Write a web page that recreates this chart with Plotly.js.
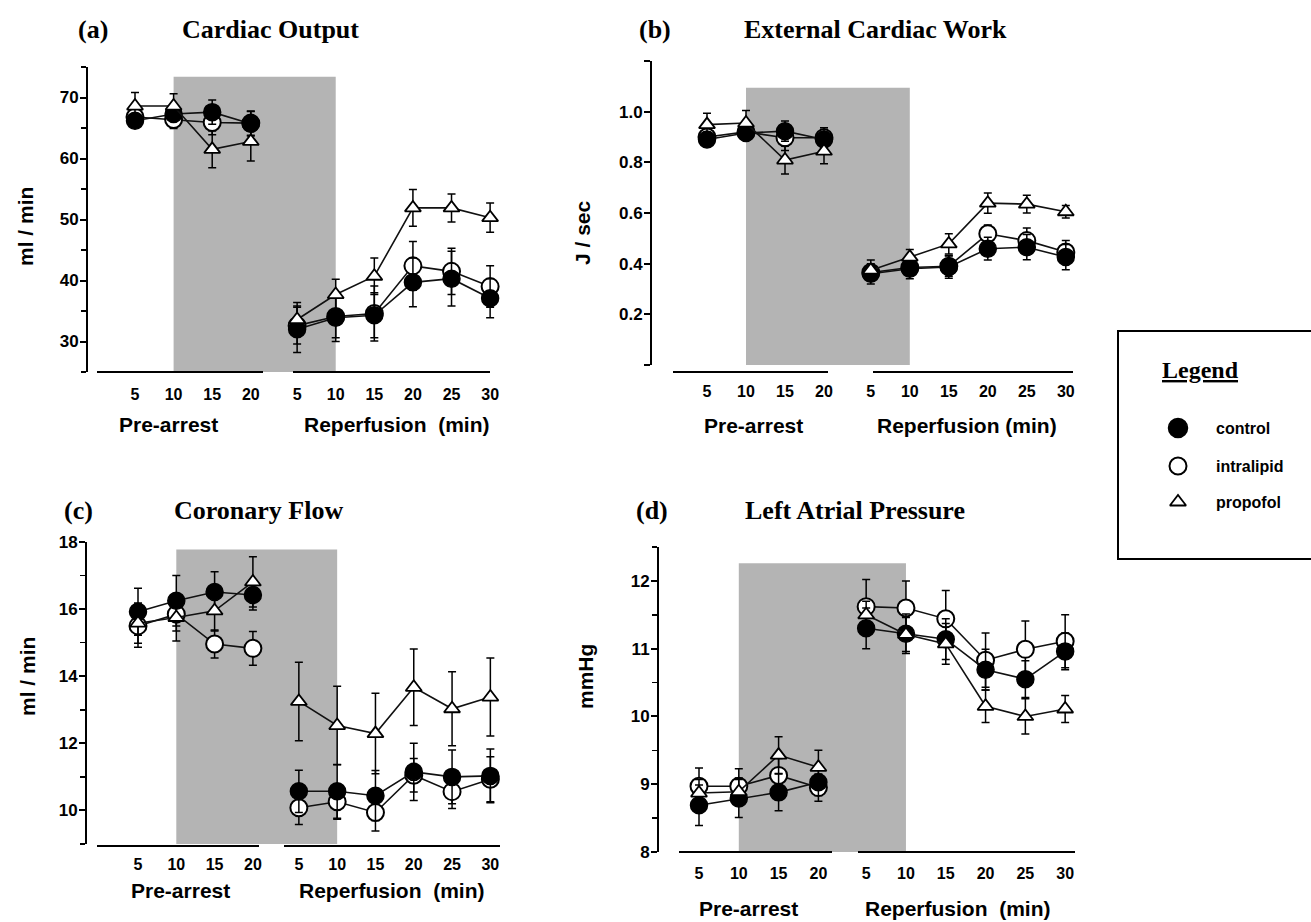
<!DOCTYPE html>
<html><head><meta charset="utf-8">
<script src="https://cdn.plot.ly/plotly-3.0.1.min.js"></script>
<style>html,body{margin:0;padding:0;background:#fff}</style>
</head><body><div id="chart" style="width:1311px;height:922px"></div>
<script>
// ---------- DATA ----------
const preTimes = ['5', '10', '15', '20'];
const repTimes = ['5', '10', '15', '20', '25', '30'];
const seriesNames = ['control', 'intralipid', 'propofol'];

// (a) Cardiac Output (ml/min)
const coControlPre = [66.2, 67.3, 67.6, 65.7];
const coControlPreErr = [1.0, 1.2, 2.0, 2.0];
const coControlRep = [32.0, 33.9, 34.3, 39.7, 40.3, 37.1];
const coControlRepErr = [3.8, 3.9, 3.7, 4.0, 4.5, 3.2];
const coIntraPre = [66.8, 66.4, 65.9, 65.8];
const coIntraPreErr = [1.5, 1.5, 2.0, 2.0];
const coIntraRep = [32.6, 34.1, 34.6, 42.4, 41.5, 39.0];
const coIntraRepErr = [3.0, 3.5, 4.5, 4.0, 3.8, 3.4];
const coPropPre = [68.6, 68.6, 61.5, 62.8];
const coPropPreErr = [2.2, 2.0, 3.0, 3.2];
const coPropRep = [33.6, 37.7, 40.7, 51.9, 51.9, 50.3];
const coPropRepErr = [2.8, 2.5, 3.0, 3.0, 2.3, 2.4];

// (b) External Cardiac Work (J/sec)
const ecwControlPre = [0.890, 0.916, 0.923, 0.890];
const ecwControlPreErr = [0.02, 0.02, 0.04, 0.04];
const ecwControlRep = [0.360, 0.380, 0.387, 0.459, 0.465, 0.426];
const ecwControlRepErr = [0.04, 0.04, 0.045, 0.045, 0.05, 0.05];
const ecwIntraPre = [0.900, 0.920, 0.897, 0.897];
const ecwIntraPreErr = [0.03, 0.03, 0.05, 0.04];
const ecwIntraRep = [0.365, 0.385, 0.390, 0.518, 0.491, 0.446];
const ecwIntraRepErr = [0.03, 0.03, 0.04, 0.035, 0.05, 0.045];
const ecwPropPre = [0.949, 0.955, 0.809, 0.844];
const ecwPropPreErr = [0.045, 0.05, 0.055, 0.05];
const ecwPropRep = [0.374, 0.426, 0.478, 0.639, 0.635, 0.605];
const ecwPropRepErr = [0.04, 0.03, 0.04, 0.04, 0.035, 0.025];

// (c) Coronary Flow (ml/min)
const cfControlPre = [15.92, 16.25, 16.51, 16.42];
const cfControlPreErr = [0.7, 0.75, 0.6, 0.45];
const cfControlRep = [10.57, 10.57, 10.44, 11.15, 11.00, 11.03];
const cfControlRepErr = [0.63, 0.8, 0.75, 0.85, 0.8, 0.8];
const cfIntraPre = [15.50, 15.85, 14.96, 14.83];
const cfIntraPreErr = [0.64, 0.5, 0.42, 0.5];
const cfIntraRep = [10.08, 10.26, 9.94, 11.05, 10.56, 10.93];
const cfIntraRepErr = [0.5, 0.52, 0.55, 0.5, 0.5, 0.67];
const cfPropPre = [15.58, 15.75, 15.95, 16.81];
const cfPropPreErr = [0.6, 0.7, 0.6, 0.75];
const cfPropRep = [13.25, 12.53, 12.29, 13.67, 13.03, 13.38];
const cfPropRepErr = [1.17, 1.17, 1.2, 1.14, 1.1, 1.16];

// (d) Left Atrial Pressure (mmHg)
const lapControlPre = [8.69, 8.79, 8.88, 9.03];
const lapControlPreErr = [0.3, 0.28, 0.27, 0.2];
const lapControlRep = [11.30, 11.22, 11.14, 10.69, 10.55, 10.96];
const lapControlRepErr = [0.3, 0.29, 0.3, 0.3, 0.27, 0.27];
const lapIntraPre = [8.97, 8.97, 9.13, 8.95];
const lapIntraPreErr = [0.27, 0.26, 0.25, 0.2];
const lapIntraRep = [11.62, 11.60, 11.44, 10.83, 10.99, 11.11];
const lapIntraRepErr = [0.4, 0.4, 0.42, 0.4, 0.42, 0.39];
const lapPropPre = [8.87, 8.89, 9.43, 9.25];
const lapPropPreErr = [0.2, 0.2, 0.27, 0.25];
const lapPropRep = [11.50, 11.21, 11.07, 10.15, 10.00, 10.11];
const lapPropRepErr = [0.2, 0.25, 0.3, 0.24, 0.26, 0.2];

// ---------- LAYOUT GEOMETRY ----------
const W = 1311, H = 922;
const GAP = 4.2; // position of first reperfusion point
const prePos = preTimes.map((t, i) => i);
const repPos = repTimes.map((t, j) => GAP + j);

const panels = [
  {letter: '(a)', title: 'Cardiac Output', ylab: 'ml / min', x0: 135, unit: 38.6, left: 88, right: 500, top: 67, bot: 372,
   yr: [25, 75], dtick: 10, tick0: 30, minor: 5, shadeTop: 73.4, axisY: 372, seg: [[97, 263], [293, 490]],
   letterXY: [93, 30], titleXY: [270, 30], ylabXY: [25, 227], preXY: [168, 424], repXY: [397, 424], repText: 'Reperfusion  (min)', standoff: 11,
   data: [[coIntraPre, coIntraPreErr, coIntraRep, coIntraRepErr], [coControlPre, coControlPreErr, coControlRep, coControlRepErr], [coPropPre, coPropPreErr, coPropRep, coPropRepErr]]},
  {letter: '(b)', title: 'External Cardiac Work', ylab: 'J / sec', x0: 707, unit: 39, left: 652, right: 1080, top: 61, bot: 365,
   yr: [0, 1.2], tickvals: [0, 0.2, 0.4, 0.6, 0.8, 1.0, 1.2], ticktext: ['', '0.2', '0.4', '0.6', '0.8', '1.0', ''], shadeTop: 1.094, axisY: 372, seg: [[673, 828], [873, 1073]],
   letterXY: [655, 30], titleXY: [875, 30], ylabXY: [583, 233], preXY: [753, 425], repXY: [967, 425], repText: 'Reperfusion (min)', standoff: 15,
   data: [[ecwIntraPre, ecwIntraPreErr, ecwIntraRep, ecwIntraRepErr], [ecwControlPre, ecwControlPreErr, ecwControlRep, ecwControlRepErr], [ecwPropPre, ecwPropPreErr, ecwPropRep, ecwPropRepErr]]},
  {letter: '(c)', title: 'Coronary Flow', ylab: 'ml / min', x0: 138, unit: 38.3, left: 87, right: 505, top: 542, bot: 844,
   yr: [9, 18], dtick: 2, tick0: 10, minor: 1, shadeTop: 17.78, axisY: 846, seg: [[97, 259], [284, 500]],
   letterXY: [78, 510], titleXY: [258, 510], ylabXY: [27, 677], preXY: [180, 890], repXY: [392, 890], repText: 'Reperfusion  (min)', standoff: 9,
   data: [[cfIntraPre, cfIntraPreErr, cfIntraRep, cfIntraRepErr], [cfControlPre, cfControlPreErr, cfControlRep, cfControlRepErr], [cfPropPre, cfPropPreErr, cfPropRep, cfPropRepErr]]},
  {letter: '(d)', title: 'Left Atrial Pressure', ylab: 'mmHg', x0: 699, unit: 39.8, left: 659, right: 1080, top: 547, bot: 852,
   yr: [8, 12.5], dtick: 1, tick0: 8, minor: 0.5, shadeTop: 12.26, axisY: 852, seg: [[679, 832], [858, 1075]],
   letterXY: [652, 510], titleXY: [855, 510], ylabXY: [585, 677], preXY: [748, 908], repXY: [958, 908], repText: 'Reperfusion  (min)', standoff: 10,
   data: [[lapIntraPre, lapIntraPreErr, lapIntraRep, lapIntraRepErr], [lapControlPre, lapControlPreErr, lapControlRep, lapControlRepErr], [lapPropPre, lapPropPreErr, lapPropRep, lapPropRepErr]]}
];

// draw order: intralipid, control, propofol
const styles = [
  {symbol: 'circle', size: 17, color: '#ffffff', line: {color: '#000', width: 2}},
  {symbol: 'circle', size: 17, color: '#000000', line: {color: '#000', width: 1.5}},
  {symbol: 'triangle-up', size: 14, color: '#ffffff', line: {color: '#000', width: 1.8}}
];

const sansB = {family: 'Liberation Sans, Arial, sans-serif', size: 16, color: '#000', weight: 700};
const serifB = {family: 'Liberation Serif, Times New Roman, serif', size: 26, color: '#000', weight: 700};

const traces = [];
const layout = {
  width: W, height: H, margin: {l: 0, r: 0, t: 0, b: 0},
  paper_bgcolor: '#fff', plot_bgcolor: 'rgba(0,0,0,0)', showlegend: false,
  shapes: [], annotations: []
};
const px = x => x / W, py = y => 1 - y / H;

panels.forEach((P, k) => {
  const n = k + 1;
  const xn = 'x' + (n === 1 ? '' : n), yn = 'y' + (n === 1 ? '' : n);
  const xk = 'xaxis' + (n === 1 ? '' : n), yk = 'yaxis' + (n === 1 ? '' : n);
  const xr = [(P.left - P.x0) / P.unit, (P.right - P.x0) / P.unit];
  layout[xk] = {
    domain: [px(P.left), px(P.right)], range: xr, anchor: yn,
    showline: false, showgrid: false, zeroline: false, ticks: '',
    tickmode: 'array', tickvals: prePos.concat(repPos), ticktext: preTimes.concat(repTimes),
    tickfont: sansB, ticklabelstandoff: P.standoff, fixedrange: true
  };
  const ya = {
    domain: [py(P.bot), py(P.top)], range: P.yr, anchor: xn,
    showline: true, linecolor: '#000', linewidth: 2, showgrid: false, zeroline: false,
    ticks: 'outside', ticklen: 6, tickwidth: 2, tickcolor: '#000',
    tickfont: Object.assign({}, sansB, {size: 17}), ticklabelstandoff: -2, fixedrange: true
  };
  if (P.tickvals) { ya.tickmode = 'array'; ya.tickvals = P.tickvals; ya.ticktext = P.ticktext; }
  else { ya.tickmode = 'linear'; ya.tick0 = P.tick0; ya.dtick = P.dtick;
         ya.minor = {dtick: P.minor, tick0: P.yr[0], ticks: 'outside', ticklen: 5, tickwidth: 1.5, tickcolor: '#000', showgrid: false}; }
  layout[yk] = ya;

  // shaded arrest period: pre "10" to reperfusion "10"
  layout.shapes.push({type: 'rect', xref: xn, yref: yn, x0: prePos[1], x1: repPos[1], y0: P.yr[0], y1: P.shadeTop,
    fillcolor: '#b4b4b4', line: {width: 0}, layer: 'below'});
  // split x-axis baselines
  P.seg.forEach(s => layout.shapes.push({type: 'line', xref: 'paper', yref: 'paper', x0: px(s[0]), x1: px(s[1]),
    y0: py(P.axisY), y1: py(P.axisY), line: {color: '#000', width: 2}, layer: 'above'}));

  P.data.forEach((d, si) => {
    const st = styles[si];
    [[prePos, d[0], d[1]], [repPos, d[2], d[3]]].forEach(seg => {
      traces.push({
        type: 'scatter', mode: 'lines+markers', xaxis: xn, yaxis: yn,
        x: seg[0], y: seg[1],
        error_y: {type: 'data', array: seg[2], visible: true, color: '#000', thickness: 1.5, width: 4},
        line: {color: '#111', width: 1.6}, marker: st, hoverinfo: 'skip'
      });
    });
  });

  const ann = (xy, text, font, extra) => layout.annotations.push(Object.assign({
    xref: 'paper', yref: 'paper', x: px(xy[0]), y: py(xy[1]), text: text, showarrow: false,
    xanchor: 'center', yanchor: 'middle', font: font}, extra || {}));
  ann(P.letterXY, P.letter, serifB);
  ann(P.titleXY, P.title, serifB);
  ann(P.ylabXY, P.ylab, Object.assign({}, sansB, {size: 21}), {textangle: -90});
  ann(P.preXY, 'Pre-arrest', Object.assign({}, sansB, {size: 21}));
  ann(P.repXY, P.repText.replace(/  /g, '&nbsp; '), Object.assign({}, sansB, {size: 21}));
});

// ---------- LEGEND BOX ----------
layout.xaxis5 = {domain: [px(1118), 1], range: [1118, 1311], visible: false, fixedrange: true, anchor: 'y5'};
layout.yaxis5 = {domain: [py(559), py(331)], range: [559, 331], visible: false, fixedrange: true, anchor: 'x5'};
layout.shapes.push({type: 'rect', xref: 'paper', yref: 'paper', x0: px(1118), x1: px(1330), y0: py(559), y1: py(331),
  line: {color: '#000', width: 2}, fillcolor: 'rgba(0,0,0,0)'});
const legendY = [428, 466, 502];
const legendStyles = [styles[1], styles[0], styles[2]];
seriesNames.forEach((name, i) => {
  const st = Object.assign({}, legendStyles[i]);
  if (i === 0) st.size = 19;
  traces.push({type: 'scatter', mode: 'markers', xaxis: 'x5', yaxis: 'y5', x: [1178], y: [legendY[i]], marker: st, hoverinfo: 'skip'});
  layout.annotations.push({xref: 'paper', yref: 'paper', x: px(1214), y: py(legendY[i]), text: name, showarrow: false,
    xanchor: 'left', yanchor: 'middle', font: Object.assign({}, sansB, {size: 16})});
});
layout.annotations.push({xref: 'paper', yref: 'paper', x: px(1200), y: py(370), text: '<u>Legend</u>', showarrow: false,
  xanchor: 'center', yanchor: 'middle', font: Object.assign({}, serifB, {size: 24})});

Plotly.newPlot('chart', traces, layout, {staticPlot: true, displayModeBar: false});
</script></body></html>
